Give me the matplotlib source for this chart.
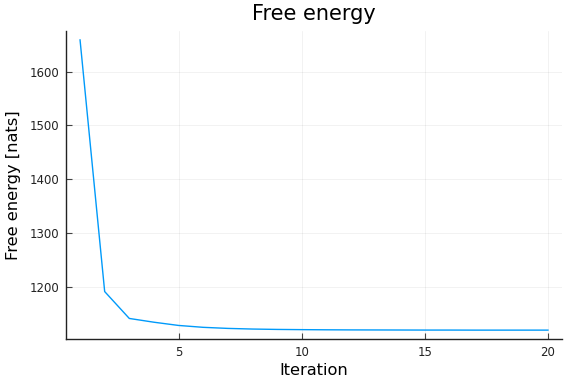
import matplotlib
matplotlib.use("Agg")
import matplotlib.pyplot as plt

# free energy per iteration
iterations = list(range(1, 21))
free_energy = [1659, 1191, 1141, 1134, 1128, 1124.5, 1122.5, 1121.3, 1120.6, 1120.2,
               1119.9, 1119.7, 1119.6, 1119.5, 1119.4, 1119.4, 1119.3, 1119.3, 1119.3, 1119.3]

fig = plt.figure(figsize=(5.76, 3.84), dpi=100)
ax = fig.add_axes([0.1146, 0.1172, 0.8611, 0.8021])

ax.plot(iterations, free_energy, color='#009afa', linewidth=1.0)

ax.set_xlim(0.43, 20.57)
ax.set_ylim(1102.8, 1675.6)
ax.set_xticks([5, 10, 15, 20])
ax.set_yticks([1200, 1300, 1400, 1500, 1600])

ax.grid(True, color='black', alpha=0.07, linewidth=0.5)
for side in ['top', 'right']:
    ax.spines[side].set_visible(False)
for side in ['left', 'bottom']:
    ax.spines[side].set_color('#222222')
    ax.spines[side].set_linewidth(1.0)
ax.tick_params(direction='in', length=4, width=0.8, color='#444444',
               labelsize=8.5, labelcolor='#222222', pad=5)

ax.set_title('Free energy', fontsize=15, pad=8)
ax.set_xlabel('Iteration', fontsize=11.7, labelpad=3)
ax.set_ylabel('Free energy [nats]', fontsize=11.7, labelpad=6)

fig.savefig('out.png', dpi=100)
